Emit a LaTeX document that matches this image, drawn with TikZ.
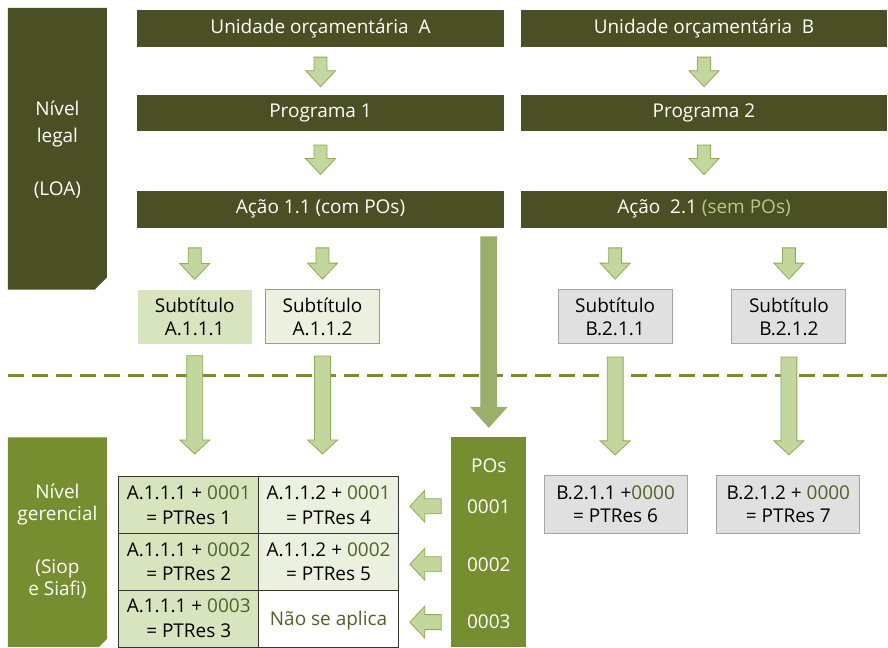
\documentclass[tikz,border=0pt]{standalone}
\usepackage{fontspec}
\setmainfont{Open Sans}
\usetikzlibrary{positioning, calc}

\definecolor{legaldark}{RGB}{74,80,35}
\definecolor{gergreen}{RGB}{118,142,48}
\definecolor{lightone}{RGB}{215,228,189}
\definecolor{lighttwo}{RGB}{235,241,222}
\definecolor{arrowfill}{RGB}{195,214,155}
\definecolor{arrowline}{RGB}{143,171,86}
\definecolor{tallarrow}{RGB}{155,175,107}
\definecolor{boxgray}{RGB}{224,224,224}
\definecolor{linegray}{RGB}{166,166,166}
\definecolor{numolive}{RGB}{79,98,40}
\definecolor{sempos}{RGB}{181,201,138}

% block arrow pointing down: [style]{tail}{tip}{shaft half}{head half}{head length}
\newcommand{\blkdown}[6][]{%
	\filldraw[blockarrow,#1] let \p1=#2, \p2=#3 in
		(\x1-#4,\y1) -- (\x1+#4,\y1) -- (\x1+#4,\y2+#6) -- (\x1+#5,\y2+#6)
		-- (\x1,\y2) -- (\x1-#5,\y2+#6) -- (\x1-#4,\y2+#6) -- cycle;}
% block arrow pointing left
\newcommand{\blkleft}[6][]{%
	\filldraw[blockarrow,#1] let \p1=#2, \p2=#3 in
		(\x1,\y1-#4) -- (\x1,\y1+#4) -- (\x2+#6,\y1+#4) -- (\x2+#6,\y1+#5)
		-- (\x2,\y1) -- (\x2+#6,\y1-#5) -- (\x2+#6,\y1-#4) -- cycle;}

\tikzset{
	every node/.style={inner sep=0pt, font=\fontsize{19}{23}\selectfont},
	bar/.style={fill=legaldark, text=white, minimum height=37pt},
	subbox/.style={minimum width=114pt, minimum height=54pt, align=center},
	cell/.style={draw=black!80, line width=0.8pt, minimum width=140pt, minimum height=57pt, align=center,
		font=\fontsize{19}{25}\selectfont},
	resbox/.style={fill=boxgray, draw=linegray, line width=1pt, minimum width=143pt, minimum height=58pt, align=center},
	blockarrow/.style={fill=arrowfill, draw=arrowline, line width=0.8pt},
	polabel/.style={text=white}
}

\begin{document}
\begin{tikzpicture}[x=1pt, y=-1pt]

	\fill[white] (0,0) rectangle (888,648);

	% level bands
	\fill[legaldark] (8,8) -- (107,8) -- (107,278) -- (95,290) -- (8,290) -- cycle;
	\node [text=white, align=center, font=\fontsize{19}{27}\selectfont] (legal) at (57.5,150) {Nível\\legal\\[26pt](LOA)};
	\fill[gergreen] (8,438) -- (107,438) -- (107,640) -- (99,648) -- (8,648) -- cycle;
	\node [text=white, align=center, font=\fontsize{19}{22.5}\selectfont] (gerencial) at (57.5,542) {Nível\\gerencial\\[30pt](Siop\\e Siafi)};

	% legal level
	\node [bar, minimum width=368pt] (ua) at (321,28.5) {Unidade orçamentária~ A};
	\node [bar, minimum width=366pt] (ub) at (705,28.5) {Unidade orçamentária~ B};
	\node [bar, minimum width=368pt, minimum height=36pt] (p1) at (321,113) {Programa 1};
	\node [bar, minimum width=366pt, minimum height=36pt] (p2) at (705,113) {Programa 2};
	\node [bar, minimum width=368pt] (a11) at (321,209.5) {Ação 1.1 (com POs)};
	\node [bar, minimum width=366pt] (a21) at (705,209.5) {Ação~ 2.1 \textcolor{sempos}{(sem POs)}};

	\node [subbox, fill=lightone] (s111) at (195,317) {Subtítulo\\A.1.1.1};
	\node [subbox, fill=lighttwo, draw=arrowline, line width=1pt] (s112) at (323,317) {Subtítulo\\A.1.1.2};
	\node [subbox, fill=boxgray, draw=linegray, line width=1pt] (s211) at (616,317) {Subtítulo\\B.2.1.1};
	\node [subbox, fill=boxgray, draw=linegray, line width=1pt] (s212) at (790,317) {Subtítulo\\B.2.1.2};

	\foreach \un/\pg in {ua/p1, ub/p2}
		\blkdown{($(\un.south)+(0,10)$)}{($(\pg.north)+(0,-8)$)}{6.5pt}{15pt}{16pt};
	\foreach \pg/\ac in {p1/a11, p2/a21}
		\blkdown{($(\pg.south)+(0,14)$)}{($(\ac.north)+(0,-16)$)}{6.5pt}{15pt}{16pt};
	\foreach \sb/\ac in {s111/a11, s112/a11, s211/a21, s212/a21}
		\blkdown{($(\sb.north |- \ac.south)+(0,20)$)}{($(\sb.north)+(0,-10)$)}{6.5pt}{15pt}{16pt};

	% separator
	\draw [gergreen, line width=2.5pt, dash pattern=on 16pt off 8pt] (8,376) -- (888,376);

	% managerial level
	\node [fill=gergreen, minimum width=75pt, minimum height=210pt] (pos) at (489.5,543) {};
	\node [polabel] (poshead) at (489.5,466) {POs};
	\foreach \n [count=\i] in {0001, 0002, 0003}
		\node [polabel] (po\i) at (489.5,449+\i*58) {\n};

	\node [cell, fill=lightone] (c11) at (189,505.5) {A.1.1.1 + \textcolor{numolive}{0001}\\= PTRes 1};
	\node [cell, fill=lighttwo] (c12) at (329,505.5) {A.1.1.2 + \textcolor{numolive}{0001}\\= PTRes 4};
	\node [cell, fill=lightone] (c21) at (189,562.5) {A.1.1.1 + \textcolor{numolive}{0002}\\= PTRes 2};
	\node [cell, fill=lighttwo] (c22) at (329,562.5) {A.1.1.2 + \textcolor{numolive}{0002}\\= PTRes 5};
	\node [cell, fill=lightone] (c31) at (189,619.5) {A.1.1.1 + \textcolor{numolive}{0003}\\= PTRes 3};
	\node [cell, fill=white, text=numolive, text depth=-4pt] (c32) at (329,619.5) {Não se aplica};

	\node [resbox] (b1) at (616.5,505) {B.2.1.1 +\textcolor{numolive}{0000}\\= PTRes 6};
	\node [resbox] (b2) at (789.5,505) {B.2.1.2 + \textcolor{numolive}{0000}\\= PTRes 7};

	\foreach \sb/\cl in {s111/c11, s112/c12}
		\blkdown{($(\sb.south)+(0,12)$)}{($(\cl.north)+(0,-22)$)}{8pt}{15pt}{14pt};
	\foreach \sb/\rb in {s211/b1, s212/b2}
		\blkdown{($(\sb.south)+(0,13)$)}{($(\rb.north)+(0,-20)$)}{8pt}{15pt}{14pt};

	\blkdown[fill=tallarrow, draw=tallarrow]{($(pos.north |- a11.south)+(0,9)$)}{($(pos.north)+(0,-10)$)}{8pt}{18pt}{20pt};

	\foreach \i in {1, 2, 3}
		\blkleft{($(pos.west |- po\i)+(-10,0)$)}{($(c12.east |- po\i)+(11,0)$)}{7.5pt}{16pt}{15pt};

\end{tikzpicture}
\end{document}
